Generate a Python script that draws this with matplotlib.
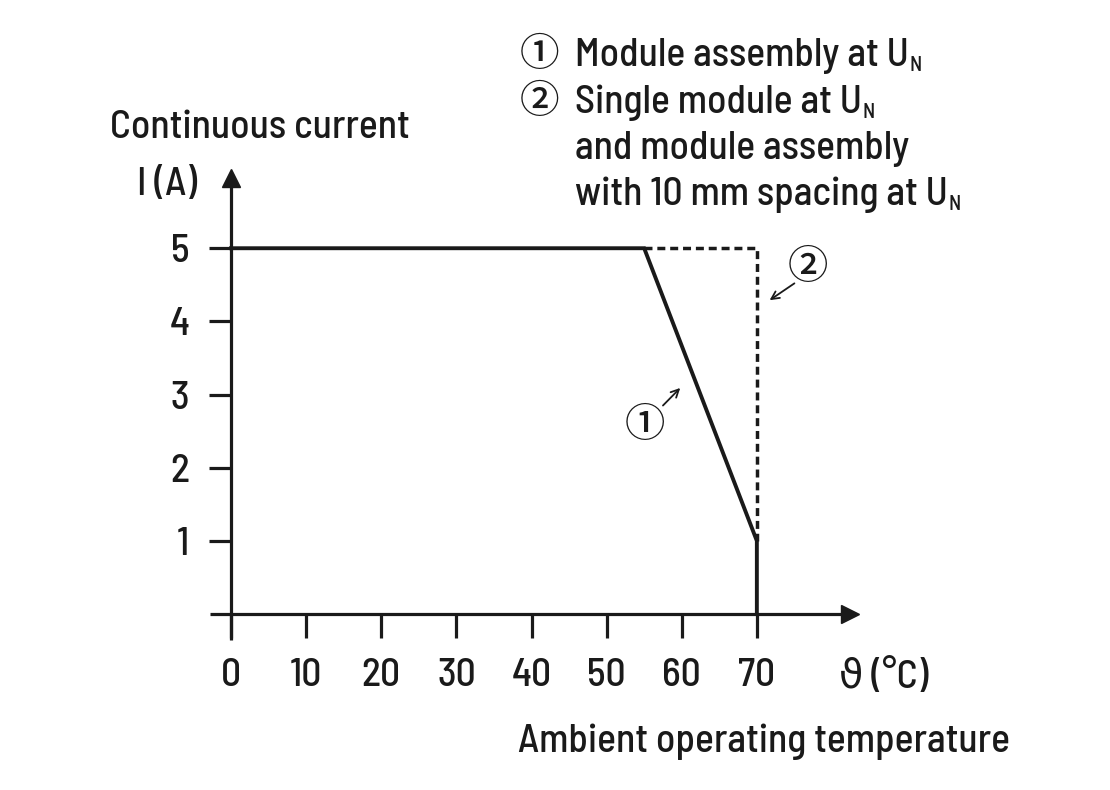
import matplotlib
matplotlib.use('Agg')
import matplotlib.pyplot as plt
from matplotlib import font_manager

# Data
temp_solid = [0, 55, 70, 70]
curr_solid = [5, 5, 1, 0]
temp_dash = [55, 70, 70]
curr_dash = [5, 5, 1]
x_ticks = [0, 10, 20, 30, 40, 50, 60, 70]
y_ticks = [1, 2, 3, 4, 5]

names = {f.name for f in font_manager.fontManager.ttflist}
wanted = ['Barlow Semi Condensed', 'Roboto Condensed', 'Archivo Narrow',
          'PT Sans Narrow', 'Liberation Sans Narrow', 'DejaVu Sans']
main_font = next(f for f in wanted if f in names or f == 'DejaVu Sans')
plt.rcParams['font.family'] = [main_font, 'DejaVu Sans']
plt.rcParams['font.weight'] = 'medium'
circ_font = ['Noto Sans CJK JP', 'DejaVu Sans']

ink = '#1a1a1a'
fs = 28.5

fig = plt.figure(figsize=(11.1, 7.9), dpi=100)
# axes box in pixels: x 210..850, y 178..640 (from top)
ax = fig.add_axes([210 / 1110, 150 / 790, 640 / 1110, 462 / 790])
ax.set_xlim(-2.8, 82.4)
ax.set_ylim(-0.355, 5.96)

for s in ['top', 'right']:
    ax.spines[s].set_visible(False)
ax.spines['left'].set_position(('data', 0))
ax.spines['bottom'].set_position(('data', 0))
for s in ['left', 'bottom']:
    ax.spines[s].set_linewidth(2.3)
    ax.spines[s].set_color(ink)
    ax.spines[s].set_capstyle('butt')

ax.plot(1, 0, '>', color=ink, ms=13, transform=ax.get_yaxis_transform(), clip_on=False)
ax.plot(0, 1, '^', color=ink, ms=13, transform=ax.get_xaxis_transform(), clip_on=False)

ax.set_xticks(x_ticks)
ax.set_xticklabels([str(v) for v in x_ticks])
ax.set_yticks(y_ticks)
ax.set_yticklabels([str(v) for v in y_ticks])
ax.tick_params(axis='x', direction='out', length=17, width=2.3, color=ink,
               labelsize=fs, pad=15, labelcolor=ink)
ax.tick_params(axis='y', direction='out', length=16, width=2.3, color=ink,
               labelsize=fs, pad=14, labelcolor=ink)

ax.plot(temp_dash, curr_dash, color=ink, lw=2.5, ls=(0, (2.3, 1.4)), solid_capstyle='butt')
ax.plot(temp_solid, curr_solid, color=ink, lw=2.8, solid_joinstyle='miter')

# axis titles
fig.text(110 / 1110, 1 - 128 / 790, 'Continuous current', fontsize=fs, color=ink,
         ha='left', va='center')
fig.text(137 / 1110, 1 - 185 / 790, 'I (A)', fontsize=fs, color=ink, ha='left', va='center')
fig.text(884 / 1110, 1 - 677 / 790, 'ϑ (°C)', fontsize=fs, color=ink, ha='center', va='center')
fig.text(1010 / 1110, 1 - 742 / 790, 'Ambient operating temperature', fontsize=fs,
         color=ink, ha='right', va='center')

# legend block
legend_lines = [
    ('①', 'Module assembly at U', True),
    ('②', 'Single module at U', True),
    ('', 'and module assembly', False),
    ('', 'with 10 mm spacing at U', True),
]
baselines = [66, 113, 159, 205]
subs = []
for (mark, txt, sub), yb in zip(legend_lines, baselines):
    if mark:
        fig.text(520 / 1110, 1 - yb / 790, mark, fontsize=fs, color=ink,
                 family=circ_font, ha='left', va='baseline')
    t = fig.text(575 / 1110, 1 - yb / 790, txt, fontsize=fs, color=ink,
                 ha='left', va='baseline')
    if sub:
        subs.append(t)

fig.canvas.draw()
renderer = fig.canvas.get_renderer()
for t in subs:
    bb = t.get_window_extent(renderer)
    x_px, y_px = t.get_transform().transform(t.get_position())
    fig.text((bb.x1 + 1) / 1110, (y_px - 5) / 790, 'N', fontsize=15, color=ink,
             ha='left', va='baseline')

# callouts
ax.text(55.1, 2.58, '①', fontsize=29, color=ink, family=circ_font,
        ha='center', va='center')
ax.annotate('', xy=(59.8, 3.09), xytext=(57.5, 2.85),
            arrowprops=dict(arrowstyle='->', color=ink, lw=1.3, mutation_scale=14,
                            shrinkA=0, shrinkB=0))
ax.text(76.8, 4.73, '②', fontsize=29, color=ink, family=circ_font,
        ha='center', va='center')
ax.annotate('', xy=(71.7, 4.29), xytext=(75.0, 4.52),
            arrowprops=dict(arrowstyle='->', color=ink, lw=1.3, mutation_scale=14,
                            shrinkA=0, shrinkB=0))

fig.savefig('out.png', dpi=100)
